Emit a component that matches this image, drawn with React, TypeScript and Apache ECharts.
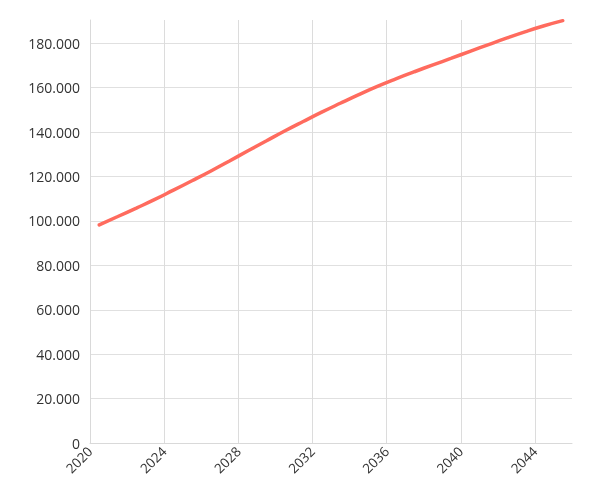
import React, { useEffect, useRef } from "react";
import * as echarts from "echarts";

const years = [
  2020.5, 2021.5, 2022.5, 2023.5, 2024.5, 2025.5, 2026.5, 2027.5, 2028.5,
  2029.5, 2030.5, 2031.5, 2032.5, 2033.5, 2034.5, 2035.5, 2036.5, 2037.5,
  2038.5, 2039.5, 2040.5, 2041.5, 2042.5, 2043.5, 2044.5, 2045.5,
];
const values = [
  98200, 102000, 105800, 109700, 113900, 118100, 122400, 126900, 131500,
  136000, 140500, 144800, 149000, 153000, 156900, 160600, 164000, 167200,
  170300, 173300, 176400, 179450, 182450, 185300, 187900, 190200,
];

const fmt = (v: number) => {
  if (v === 0) return "0";
  const s = Math.round(v).toString();
  return s.replace(/\B(?=(\d{3})+(?!\d))/g, ".");
};

export default function App() {
  const ref = useRef<HTMLDivElement>(null);
  useEffect(() => {
    if (!ref.current) return;
    const chart = echarts.init(ref.current, null, { renderer: "svg" });
    const font = "'Open Sans', 'Noto Sans', sans-serif";
    const yColors = Array.from({ length: 11 }, (_, i) => (i === 10 ? "transparent" : "#e0e0e0"));
    const xColors = Array.from({ length: 8 }, (_, i) => (i === 7 ? "transparent" : "#dcdcdc"));
    chart.setOption({
      animation: false,
      grid: { left: 90, right: 19, top: 20, bottom: 57, containLabel: false },
      xAxis: {
        type: "value",
        min: 2020,
        max: 2046,
        interval: 4,
        axisLine: { show: true, lineStyle: { color: "#d9d9d9", width: 1 } },
        axisTick: { show: false },
        axisLabel: {
          rotate: 45,
          margin: 6,
          fontSize: 13.5,
          fontFamily: font,
          color: "#333",
          showMaxLabel: false,
          formatter: (v: number) => (v % 4 === 0 ? String(v) : ""),
        },
        splitLine: { show: true, lineStyle: { color: xColors, width: 1 } },
      },
      yAxis: {
        type: "value",
        min: 0,
        max: 190500,
        interval: 20000,
        axisLine: { show: true, lineStyle: { color: "#d9d9d9", width: 1 } },
        axisTick: { show: false },
        axisLabel: {
          margin: 10,
          fontSize: 14,
          fontFamily: font,
          color: "#333",
          showMaxLabel: false,
          formatter: (v: number) => (v % 20000 === 0 ? fmt(v) : ""),
        },
        splitLine: { show: true, lineStyle: { color: yColors, width: 1 } },
      },
      series: [
        {
          type: "line",
          data: years.map((y, i) => [y, values[i]]),
          smooth: true,
          showSymbol: false,
          symbol: "none",
          lineStyle: { color: "#ff6b5e", width: 3.5, cap: "round" },
        },
      ],
    });
    return () => chart.dispose();
  }, []);
  return (
    <div
      ref={ref}
      style={{ position: "fixed", left: 0, top: 0, width: 591, height: 500 }}
    />
  );
}
